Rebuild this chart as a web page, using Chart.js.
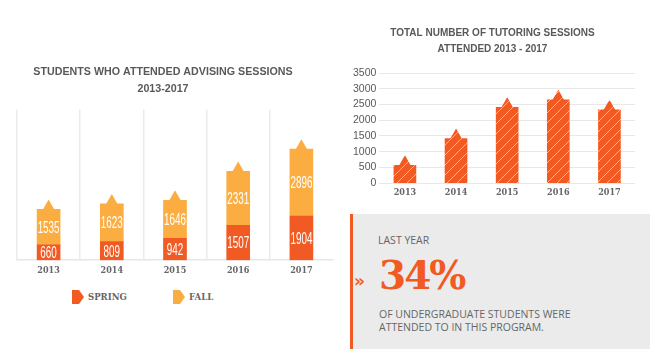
<!DOCTYPE html>
<html>
<head>
<meta charset="utf-8">
<script src="https://cdn.jsdelivr.net/npm/chart.js@4.4.1/dist/chart.umd.min.js"></script>
<style>
  body { margin:0; width:650px; height:360px; position:relative; overflow:hidden; background:#fff; font-family:"Open Sans", sans-serif; }
  #advising { position:absolute; left:-7px; top:0; }
  #tutoring { position:absolute; left:340px; top:0; }
  .legend { position:absolute; top:290px; left:0; }
  .legend .item { position:absolute; top:0; white-space:nowrap; font:bold 9.5px "DejaVu Serif Condensed", "DejaVu Serif", serif; color:#666; }
  .legend svg { position:absolute; left:0; top:0; }
  .legend span { position:absolute; left:16px; top:1px; line-height:12px; }
  .stat { position:absolute; left:350px; top:214px; width:300px; height:135px; background:#ebebeb; border-left:3px solid #f15a22; box-sizing:border-box; color:#666; }
  .stat .arrow { position:absolute; left:1px; top:57px; color:#f15a22; font:bold 17px "DejaVu Sans", sans-serif; }
  .stat .small { position:absolute; left:25px; top:19px; font-size:10.5px; }
  .stat .big { position:absolute; left:26px; top:41px; font:bold 39px "DejaVu Serif", serif; letter-spacing:-2px; color:#f15a22; line-height:40px; }
  .stat .note { position:absolute; left:26px; top:94px; font-size:10.5px; line-height:12.7px; }
</style>
</head>
<body>
<canvas id="advising" width="343" height="281"></canvas>
<canvas id="tutoring" width="310" height="202"></canvas>
<div class="legend" id="legend"></div>
<div class="stat">
  <div class="arrow">»</div>
  <div class="small">LAST YEAR</div>
  <div class="big">34%</div>
  <div class="note">OF UNDERGRADUATE STUDENTS WERE<br>ATTENDED TO IN THIS PROGRAM.</div>
</div>
<script>
const years = ['2013', '2014', '2015', '2016', '2017'];
const spring = [660, 809, 942, 1507, 1904];
const fall = [1535, 1623, 1646, 2331, 2896];
const tutoring = [570, 1420, 2410, 2650, 2330];

const orange = '#f15a22';
const lightOrange = '#fbad41';
const axisFont = { family: '"DejaVu Serif Condensed", "DejaVu Serif", serif', size: 9, weight: 'bold' };

// white diagonal stripes for the tutoring bars
function hatch(color) {
  const c = document.createElement('canvas');
  c.width = 10; c.height = 10;
  const g = c.getContext('2d');
  g.fillStyle = color;
  g.fillRect(0, 0, 10, 10);
  g.strokeStyle = 'rgba(255,255,255,0.55)';
  g.lineWidth = 1;
  g.beginPath();
  g.moveTo(0, 10); g.lineTo(10, 0);
  g.moveTo(-5, 5); g.lineTo(5, -5);
  g.moveTo(5, 15); g.lineTo(15, 5);
  g.stroke();
  return g.createPattern(c, 'repeat');
}

// little arrow tip on top of each bar + value labels inside the segments
const barExtras = {
  id: 'barExtras',
  afterDatasetsDraw(chart, args, opts) {
    const ctx = chart.ctx;
    const metas = chart.getSortedVisibleDatasetMetas();
    const topMeta = metas[metas.length - 1];
    ctx.save();
    topMeta.data.forEach(bar => {
      ctx.beginPath();
      ctx.moveTo(bar.x - 6, bar.y + 0.5);
      ctx.lineTo(bar.x, bar.y - 10);
      ctx.lineTo(bar.x + 6, bar.y + 0.5);
      ctx.closePath();
      ctx.fillStyle = bar.options.backgroundColor;
      ctx.fill();
    });
    if (opts.labels) {
      ctx.fillStyle = '#fff';
      ctx.font = '17px "Liberation Sans Narrow", "Liberation Sans", sans-serif';
      ctx.textAlign = 'center';
      ctx.textBaseline = 'middle';
      metas.forEach(meta => {
        meta.data.forEach((bar, i) => {
          ctx.save();
          ctx.translate(bar.x, (bar.y + bar.base) / 2 + 1);
          ctx.scale(0.58, 1);
          ctx.fillText(chart.data.datasets[meta.index].data[i], 0, 0);
          ctx.restore();
        });
      });
    }
    ctx.restore();
  }
};

const advising = new Chart(document.getElementById('advising'), {
  type: 'bar',
  data: {
    labels: years,
    datasets: [
      { label: 'SPRING', data: spring, backgroundColor: orange, barThickness: 23 },
      { label: 'FALL', data: fall, backgroundColor: lightOrange, barThickness: 23 }
    ]
  },
  options: {
    responsive: false,
    animation: false,
    layout: { padding: { left: 0, right: 3 } },
    plugins: {
      legend: { display: false },
      tooltip: { enabled: false },
      title: {
        display: true,
        text: ['STUDENTS WHO ATTENDED ADVISING SESSIONS', '2013-2017'],
        color: '#58595b',
        font: { family: '"Liberation Sans Narrow", "Liberation Sans", sans-serif', size: 10.7, weight: 'bold', lineHeight: 1.58 },
        padding: { top: 64, bottom: 12 }
      },
      barExtras: { labels: true }
    },
    scales: {
      x: {
        stacked: true,
        grid: {
          color: c => c.type === 'tick' ? '#ebebeb' : 'transparent',
          lineWidth: 1.5,
          drawTicks: false
        },
        border: { color: '#e6e6e6', width: 1.5 },
        ticks: { color: '#666', font: axisFont, padding: 5 }
      },
      // hidden axis, only keeps the empty gutter on the left
      y: {
        stacked: true,
        min: 0,
        max: 6500,
        grid: { display: false },
        border: { display: false },
        ticks: { display: false },
        afterFit: s => { s.width = 24; }
      }
    }
  },
  plugins: [barExtras]
});

new Chart(document.getElementById('tutoring'), {
  type: 'bar',
  data: {
    labels: years,
    datasets: [{ label: 'Tutoring sessions', data: tutoring, backgroundColor: hatch(orange), barThickness: 22 }]
  },
  options: {
    responsive: false,
    animation: false,
    layout: { padding: { left: 10, right: 15 } },
    plugins: {
      legend: { display: false },
      tooltip: { enabled: false },
      title: {
        display: true,
        text: ['TOTAL NUMBER OF TUTORING SESSIONS', 'ATTENDED 2013 - 2017'],
        color: '#58595b',
        font: { family: '"Liberation Sans Narrow", "Liberation Sans", sans-serif', size: 10, weight: 'bold', lineHeight: 1.6 },
        padding: { top: 25, bottom: 16 }
      },
      barExtras: { labels: false }
    },
    scales: {
      x: {
        grid: { display: false, drawTicks: false },
        border: { display: false },
        ticks: { color: '#666', font: axisFont, padding: 4 }
      },
      y: {
        min: 0,
        max: 3500,
        grid: { color: '#e8e8e8', drawTicks: false },
        border: { display: false },
        ticks: {
          stepSize: 500,
          autoSkip: false,
          padding: 3,
          color: '#58595b',
          font: { family: '"Liberation Sans Narrow", "Liberation Sans", sans-serif', size: 10.5 },
          callback: v => String(v)
        }
      }
    }
  },
  plugins: [barExtras]
});

// legend for the advising chart
const legendPos = [72, 173];
const legendEl = document.getElementById('legend');
advising.data.datasets.forEach((ds, i) => {
  const item = document.createElement('div');
  item.className = 'item';
  item.style.left = legendPos[i] + 'px';
  item.innerHTML = '<svg width="12" height="14"><polygon points="0,0 7,0 12,7 7,14 0,14" fill="' + ds.backgroundColor + '"/></svg><span>' + ds.label + '</span>';
  legendEl.appendChild(item);
});
</script>
</body>
</html>
